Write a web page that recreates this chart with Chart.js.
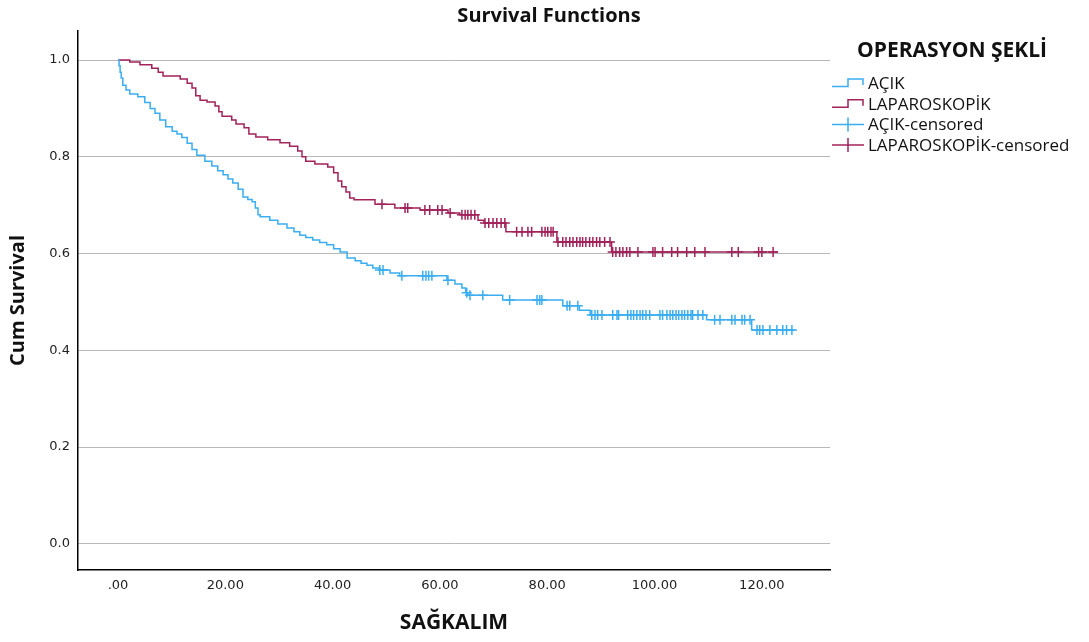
<!DOCTYPE html>
<html>
<head>
<meta charset="utf-8">
<title>Survival Functions</title>
<script src="https://cdn.jsdelivr.net/npm/chart.js@4.4.1/dist/chart.umd.min.js"></script>
<style>
  body { margin: 0; background: #fff; }
  #wrap { width: 1089px; height: 642px; }
</style>
</head>
<body>
<div id="wrap"><canvas id="survChart" width="1089" height="642"></canvas></div>
<script>
// Groups (legend labels)
const groups = ['AÇIK', 'LAPAROSKOPİK'];
const legendTitle = 'OPERASYON ŞEKLİ';

// AÇIK: event times and cumulative survival after each step
const acikTimes = [0, 0.2, 0.4, 0.6, 0.9, 1.5, 2.2, 3.7, 5.0, 6.0, 6.9, 7.8, 8.9, 10.1, 11.0, 11.9, 12.9, 13.8, 14.7, 16.2,
  17.5, 18.6, 19.6, 20.5, 21.4, 22.4, 23.3, 24.2, 25.0, 25.6, 26.1, 26.5, 28.3, 29.8, 31.5, 32.8, 33.9, 35.0, 36.3, 37.6,
  38.9, 40.2, 41.4, 42.7, 44.2, 45.3, 46.4, 47.5, 48.8, 50.7, 52.5, 61.3, 62.8, 64.1, 64.8, 65.2, 71.7, 82.9, 86.0, 88.0,
  109.7, 118.1, 126.1];
const acikSurv = [1.000, 0.988, 0.975, 0.963, 0.948, 0.938, 0.930, 0.924, 0.912, 0.900, 0.890, 0.876, 0.862, 0.853, 0.847, 0.840, 0.828, 0.815, 0.803, 0.791,
  0.781, 0.771, 0.763, 0.754, 0.746, 0.733, 0.717, 0.712, 0.707, 0.694, 0.680, 0.676, 0.669, 0.661, 0.653, 0.645, 0.638, 0.633, 0.628, 0.623,
  0.618, 0.610, 0.603, 0.591, 0.585, 0.580, 0.576, 0.570, 0.566, 0.560, 0.554, 0.545, 0.537, 0.529, 0.519, 0.514, 0.504, 0.492, 0.483, 0.473,
  0.463, 0.442, 0.442];
// AÇIK: censored times
const acikCensored = [48.8, 49.4, 52.9, 56.8, 57.4, 57.9, 58.5, 61.5, 65.0, 65.6, 68.0, 73.0, 78.1, 78.6, 79.0, 83.7, 84.2, 85.7,
  88.3, 88.9, 89.4, 90.2, 92.2, 93.0, 93.3, 95.0, 95.6, 96.1, 96.7, 97.3, 97.8, 98.4, 99.1, 101.0, 101.5, 102.3, 102.9, 103.4,
  104.0, 104.5, 105.1, 105.6, 106.2, 106.8, 107.1, 108.1, 109.0, 111.2, 112.2, 114.4, 115.0, 116.3, 116.8, 117.8, 119.1, 119.6,
  120.2, 121.5, 122.8, 123.9, 124.6, 125.6];

// LAPAROSKOPİK: event times and cumulative survival
const laparoTimes = [0, 2.2, 4.1, 6.3, 7.5, 8.4, 11.6, 12.9, 13.8, 14.5, 15.3, 16.6, 18.1, 18.8, 19.4, 21.2, 22.0, 23.5, 24.4, 25.7,
  27.9, 30.2, 32.0, 33.5, 34.3, 35.0, 36.7, 39.1, 40.2, 41.0, 41.7, 42.5, 43.2, 44.0, 47.9, 51.6, 56.3, 61.5, 63.7, 67.1,
  68.2, 72.3, 81.8, 92.0, 123.0];
const laparoSurv = [1.000, 0.996, 0.990, 0.983, 0.975, 0.967, 0.961, 0.952, 0.942, 0.926, 0.917, 0.913, 0.905, 0.893, 0.884, 0.876, 0.868, 0.860, 0.847, 0.841,
  0.835, 0.829, 0.822, 0.812, 0.800, 0.791, 0.785, 0.779, 0.767, 0.750, 0.738, 0.727, 0.715, 0.711, 0.702, 0.694, 0.690, 0.684, 0.680, 0.669,
  0.663, 0.645, 0.624, 0.603, 0.603];
// LAPAROSKOPİK: censored times
const laparoCensored = [49.2, 53.5, 54.0, 57.2, 58.1, 59.6, 60.4, 61.9, 64.1, 64.7, 65.2, 65.8, 66.5, 68.4, 69.1, 69.9, 70.6, 71.4,
  72.1, 74.3, 75.3, 76.4, 77.1, 79.0, 79.6, 80.1, 80.7, 81.1, 82.0, 82.9, 83.5, 84.2, 84.8, 85.5, 86.1, 86.6, 87.2, 87.9, 88.5,
  89.2, 89.8, 90.7, 91.7, 92.2, 92.8, 93.5, 94.1, 94.8, 95.4, 96.9, 99.7, 100.1, 101.5, 103.2, 104.3, 106.0, 107.5, 109.4,
  114.4, 115.6, 119.4, 120.0, 122.1];

// Axis ticks
const xTicks = [0, 20, 40, 60, 80, 100, 120];
const yTicks = [0, 0.2, 0.4, 0.6, 0.8, 1.0];

const BLUE = '#3aaef1';
const RED = '#a3225a';

// Survival value of a step curve at time t
function survivalAt(times, surv, t) {
    let s = surv[0];
    for (let i = 0; i < times.length; i++) {
        if (times[i] <= t) s = surv[i];
    }
    return s;
}

function stepData(times, surv) {
    return times.map((t, i) => ({ x: t, y: surv[i] }));
}

function censoredData(cens, times, surv) {
    return cens.map(t => ({ x: t, y: survivalAt(times, surv, t) }));
}

// Title and SPSS-style legend drawn on the canvas
const spssDecor = {
    id: 'spssDecor',
    afterDraw(chart) {
        const ctx = chart.ctx;
        ctx.save();
        ctx.fillStyle = '#111';
        ctx.textBaseline = 'middle';
        ctx.textAlign = 'center';
        ctx.font = 'bold 20px "Open Sans"';
        ctx.fillText('Survival Functions', 549, 16);

        ctx.textAlign = 'left';
        ctx.font = 'bold 21px "Open Sans"';
        ctx.fillText(legendTitle, 857, 51);

        const items = [
            { text: groups[0], color: BLUE, kind: 'step' },
            { text: groups[1], color: RED, kind: 'step' },
            { text: groups[0] + '-censored', color: BLUE, kind: 'cross' },
            { text: groups[1] + '-censored', color: RED, kind: 'cross' }
        ];
        ctx.font = '17px "Open Sans"';
        items.forEach((item, i) => {
            const y = 83 + i * 20.7;
            ctx.strokeStyle = item.color;
            ctx.lineWidth = 1.5;
            ctx.beginPath();
            if (item.kind === 'step') {
                ctx.moveTo(832, y + 3.5);
                ctx.lineTo(848, y + 3.5);
                ctx.lineTo(848, y - 4);
                ctx.lineTo(863, y - 4);
                ctx.lineTo(863, y + 2);
            } else {
                ctx.moveTo(832, y);
                ctx.lineTo(864, y);
                ctx.moveTo(848, y - 7);
                ctx.lineTo(848, y + 7);
            }
            ctx.stroke();
            ctx.fillStyle = '#111';
            ctx.fillText(item.text, 868, y + 1);
        });
        ctx.restore();
    }
};

function createSurvivalChart() {
    const ctx = document.getElementById('survChart').getContext('2d');
    new Chart(ctx, {
        type: 'line',
        data: {
            datasets: [
                {
                    label: groups[0],
                    data: stepData(acikTimes, acikSurv),
                    borderColor: BLUE,
                    borderWidth: 1.5,
                    stepped: 'before',
                    pointRadius: 0,
                    fill: false
                },
                {
                    label: groups[1],
                    data: stepData(laparoTimes, laparoSurv),
                    borderColor: RED,
                    borderWidth: 1.5,
                    stepped: 'before',
                    pointRadius: 0,
                    fill: false
                },
                {
                    label: groups[0] + '-censored',
                    data: censoredData(acikCensored, acikTimes, acikSurv),
                    showLine: false,
                    pointStyle: 'cross',
                    pointRadius: 5,
                    pointBorderWidth: 1.5,
                    pointBorderColor: BLUE,
                    borderColor: BLUE
                },
                {
                    label: groups[1] + '-censored',
                    data: censoredData(laparoCensored, laparoTimes, laparoSurv),
                    showLine: false,
                    pointStyle: 'cross',
                    pointRadius: 5,
                    pointBorderWidth: 1.5,
                    pointBorderColor: RED,
                    borderColor: RED
                }
            ]
        },
        options: {
            responsive: false,
            animation: false,
            layout: { padding: { top: 31, right: 259, left: 0, bottom: 0 } },
            plugins: {
                legend: { display: false },
                tooltip: { enabled: false },
                title: { display: false }
            },
            scales: {
                x: {
                    type: 'linear',
                    min: -7.45,
                    max: 132.7,
                    afterBuildTicks: scale => { scale.ticks = xTicks.map(v => ({ value: v })); },
                    afterFit: scale => { scale.height = 72; },
                    grid: { drawOnChartArea: false, drawTicks: false },
                    border: { display: true, color: '#000', width: 1.5 },
                    ticks: {
                        padding: 8,
                        color: '#222',
                        font: { family: 'DejaVu Sans', size: 13 },
                        maxRotation: 0,
                        callback: v => (v === 0 ? '.00' : v.toFixed(2))
                    },
                    title: {
                        display: true,
                        text: 'SAĞKALIM',
                        color: '#111',
                        font: { family: 'Open Sans', size: 21, weight: 'bold' },
                        padding: { top: 4, bottom: 6 }
                    }
                },
                y: {
                    min: -0.054,
                    max: 1.06,
                    afterBuildTicks: scale => { scale.ticks = yTicks.map(v => ({ value: v })); },
                    afterFit: scale => { scale.width = 78; },
                    grid: { color: '#b8b8b8', lineWidth: 1, drawTicks: false },
                    border: { display: true, color: '#000', width: 1.5 },
                    ticks: {
                        padding: 8,
                        color: '#222',
                        font: { family: 'DejaVu Sans', size: 13 },
                        callback: v => v.toFixed(1)
                    },
                    title: {
                        display: true,
                        text: 'Cum Survival',
                        color: '#111',
                        font: { family: 'Open Sans', size: 20, weight: 'bold' },
                        padding: { top: 6, bottom: 4 }
                    }
                }
            }
        },
        plugins: [spssDecor]
    });
}

window.addEventListener('load', createSurvivalChart);
</script>
</body>
</html>
